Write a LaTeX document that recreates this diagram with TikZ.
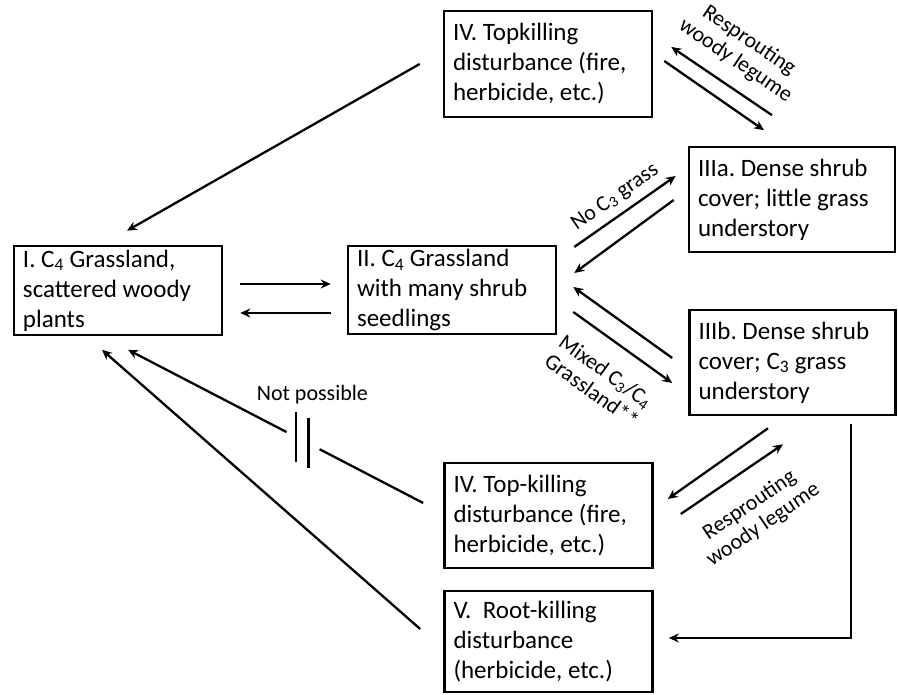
\documentclass[tikz,border=0pt]{standalone}
\usepackage{fontspec}
\setmainfont{Carlito}
\usetikzlibrary{arrows.meta,calc}
\frenchspacing

\begin{document}
\begin{tikzpicture}[x=1pt,y=1pt,>={Stealth[length=10pt,width=9pt]},
  stage/.style={rectangle,draw=black,line width=2.6pt,text width=190pt,inner xsep=9pt,inner ysep=2pt,align=flush left,font=\fontsize{25}{30}\selectfont},
  flow/.style={->,line width=2.3pt},
  cut/.style={line width=2.3pt},
  note/.style={font=\fontsize{22}{24}\selectfont,align=flush center,inner sep=1pt}]
\useasboundingbox (0,0) rectangle (898,695);
\node[stage,minimum height=106pt] (topkill) at (548,631) {IV. Topkilling\\disturbance (fire,\\herbicide, etc.)};
\node[stage,minimum height=89pt] (grass) at (118,404.5) {I. C\textsubscript{4} Grassland,\\scattered woody\\plants};
\node[stage,minimum height=88pt] (seedling) at (452,405) {II. C\textsubscript{4} Grassland\\with many shrub\\seedlings};
\node[stage,text width=188pt,minimum height=105pt] (shrubA) at (792,495.5) {IIIa. Dense shrub\\cover; little grass\\understory};
\node[stage,text width=188pt,minimum height=105pt] (shrubB) at (792.5,332.5) {IIIb. Dense shrub\\cover; C\textsubscript{3} grass\\understory};
\node[stage,minimum height=105pt] (topkillB) at (548.5,179.5) {IV. Top-killing\\disturbance (fire,\\herbicide, etc.)};
\node[stage,minimum height=101pt] (rootkill) at (548.5,53.5) {V.\ \ Root-killing\\disturbance\\(herbicide, etc.)};
\draw[flow] ([xshift=-23pt]topkill.west) -- ([xshift=9pt,yshift=14pt]grass.north);
\draw[flow] ([xshift=17pt,yshift=6.5pt]grass.east) -- ([xshift=-16pt,yshift=6pt]seedling.west);
\draw[flow] ([xshift=-16pt,yshift=-23pt]seedling.west) -- ([xshift=17pt,yshift=-22.5pt]grass.east);
\draw[flow] ([xshift=17pt,yshift=43pt]seedling.east) -- node[note,sloped,above=6pt] {No C\textsubscript{3} grass} ([xshift=-12pt,yshift=23.5pt]shrubA.west);
\draw[flow] ([xshift=-14pt,yshift=-0.5pt]shrubA.west) -- ([xshift=17pt,yshift=17pt]seedling.east);
\draw[flow] ([xshift=-16pt,yshift=4.5pt]shrubB.west) -- ([xshift=16pt,yshift=3pt]seedling.east);
\draw[flow] ([xshift=16pt,yshift=-22pt]seedling.east) -- node[note,sloped,below=19pt] {Mixed C\textsubscript{3}/C\textsubscript{4}\\Grassland**} ([xshift=-16pt,yshift=-20.5pt]shrubB.west);
\draw[flow] ([xshift=-20pt,yshift=30.5pt]shrubA.north) -- node[note,sloped,above=13pt] {Resprouting\\woody legume} ([xshift=18pt,yshift=17pt]topkill.east);
\draw[flow] ([xshift=11pt,yshift=3pt]topkill.east) -- ([xshift=-28pt,yshift=15.5pt]shrubA.north);
\draw[flow] ([xshift=-24.5pt,yshift=-12pt]shrubB.south) -- ([xshift=14pt,yshift=16.5pt]topkillB.east);
\draw[flow] ([xshift=27pt,yshift=1.5pt]topkillB.east) -- node[note,sloped,below=20pt] {Resprouting\\woody legume} ([xshift=-9.5pt,yshift=-28pt]shrubB.south);
\draw[flow] ([xshift=58.5pt,yshift=-8pt]shrubB.south) |- ([xshift=15pt,yshift=3.5pt]rootkill.east);
\coordinate (np-start) at ([xshift=-20pt,yshift=12.5pt]topkillB.west);
\coordinate (np-end) at ([xshift=10pt,yshift=-13.5pt]grass.south);
\draw[cut] (np-start) -- ($(np-start)!0.351!(np-end)$);
\draw[flow] ($(np-start)!0.463!(np-end)$) -- (np-end);
\draw[cut] ($(np-start)!0.432!(np-end)$) +(0,-25) -- +(0,25);
\draw[cut] ($(np-start)!0.389!(np-end)$) +(0,-25) -- +(0,25) node[note,above=12pt,xshift=4pt] (np-label) {Not possible};
\draw[flow] ([xshift=-23pt,yshift=12.5pt]rootkill.west) -- ([xshift=-16pt,yshift=-13.5pt]grass.south);
\end{tikzpicture}
\end{document}
